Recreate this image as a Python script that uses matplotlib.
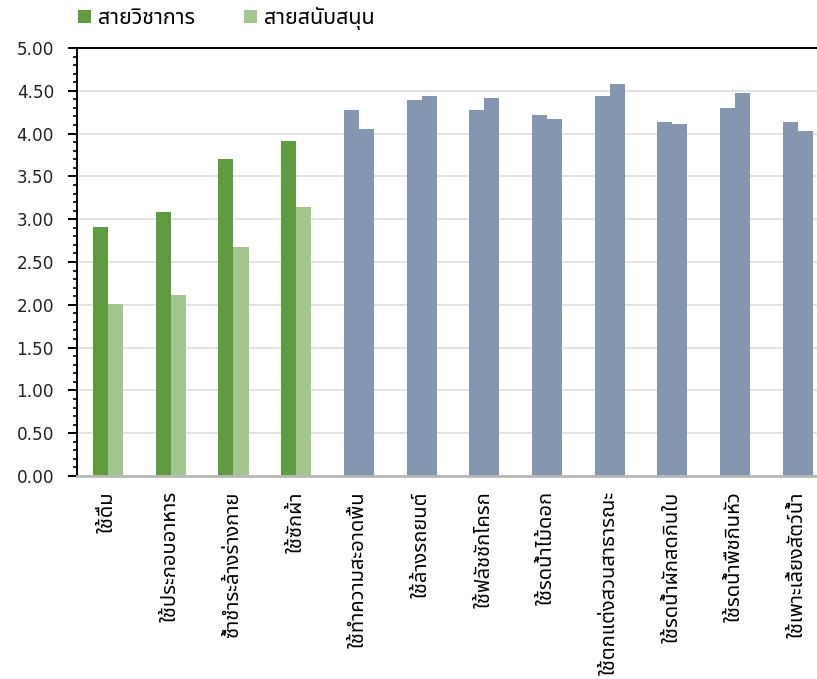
import matplotlib
matplotlib.use("Agg")
import matplotlib.pyplot as plt
from matplotlib.ticker import MultipleLocator, FormatStrFormatter
import numpy as np

plt.rcParams['font.family'] = ['Noto Sans Thai', 'DejaVu Sans']

categories = [
    "ใช้ดื่ม", "ใช้ประกอบอาหาร", "ซ้ำชำระล้างร่างกาย", "ใช้ซักผ้า",
    "ใช้ทำความสะอาดพื้น", "ใช้ล้างรถยนต์", "ใช้ฟลัชชักโครก", "ใช้รดน้ำไม้ดอก",
    "ใช้ตกแต่งสวนสาธารณะ", "ใช้รดน้ำผักสดกินใบ", "ใช้รดน้ำพืชกินหัว", "ใช้เพาะเลี้ยงสัตว์น้ำ",
]
series_names = ["สายวิชาการ", "สายสนับสนุน"]
academic = [2.91, 3.08, 3.70, 3.91, 4.28, 4.39, 4.28, 4.22, 4.44, 4.14, 4.30, 4.14]
support = [2.01, 2.11, 2.68, 3.14, 4.05, 4.44, 4.42, 4.17, 4.58, 4.11, 4.47, 4.03]

DARK_GREEN = "#619B40"
LIGHT_GREEN = "#A3C68E"
SLATE = "#8597B0"
n_green = 4  # first groups drawn in green, the rest in slate

fig = plt.figure(figsize=(8.17, 6.79), dpi=100)
ax = fig.add_axes([0.0939, 0.2990, 0.921, 0.6303])

x = np.arange(len(categories))
w = 0.24
c1 = [DARK_GREEN if i < n_green else SLATE for i in range(len(categories))]
c2 = [LIGHT_GREEN if i < n_green else SLATE for i in range(len(categories))]
b1 = ax.bar(x - w / 2, academic, width=w, color=c1, zorder=2)
b2 = ax.bar(x + w / 2, support, width=w, color=c2, zorder=2)

ax.set_xlim(-0.5, len(categories) - 0.5)
ax.set_ylim(0, 5)
ax.yaxis.set_major_locator(MultipleLocator(0.5))
ax.yaxis.set_minor_locator(MultipleLocator(0.1))
ax.yaxis.set_major_formatter(FormatStrFormatter("%.2f"))
ax.grid(axis="y", color="#E3E3E3", linewidth=1.4, zorder=0)
ax.set_axisbelow(True)

ax.spines["right"].set_visible(False)
ax.spines["top"].set_color("black")
ax.spines["top"].set_linewidth(1.4)
ax.spines["left"].set_color("black")
ax.spines["left"].set_linewidth(1.4)
ax.spines["bottom"].set_color("#B8B8B8")
ax.spines["bottom"].set_linewidth(2.0)

ax.tick_params(axis="y", which="major", length=6.3, width=1.4, pad=10, labelsize=12.2)
ax.tick_params(axis="y", which="minor", length=3.2, width=1.2)
for lbl in ax.get_yticklabels():
    lbl.set_family("DejaVu Sans")
    lbl.set_color("#222222")

ax.set_xticks(x)
ax.set_xticklabels(categories, rotation=90, fontsize=14.5)
ax.tick_params(axis="x", length=0, pad=11)

fig.legend([b1, b2], series_names, loc="center left", bbox_to_anchor=(0.0955, 0.9728),
           ncol=2, frameon=False, fontsize=15.5, handlelength=0.6, handleheight=0.6,
           handletextpad=0.33, columnspacing=2.28, borderpad=0, borderaxespad=0)

fig.savefig("out.png", dpi=100)
